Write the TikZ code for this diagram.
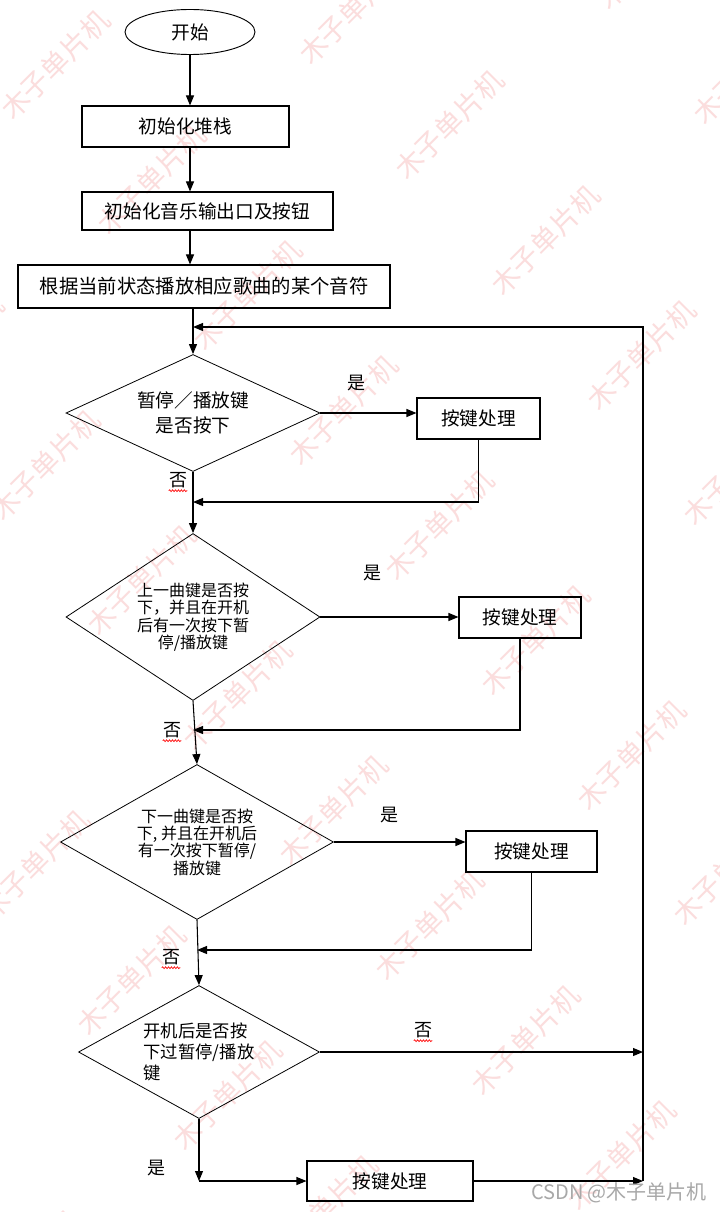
\documentclass[tikz,border=0pt]{standalone}
\usepackage{fontspec}
\setmainfont{Noto Sans CJK SC}
\usetikzlibrary{shapes.geometric, arrows.meta, decorations.pathmorphing}
\definecolor{wmpink}{HTML}{FBDDDD}
\definecolor{csdngray}{HTML}{A8A8A8}
\tikzset{
	startnode/.style={
			ellipse,
			draw=black,
			line width=0.7pt,
			minimum width=97.5pt,
			minimum height=33.75pt,
			inner sep=0pt,
			font=\fontsize{14}{17}\selectfont
		},
	procnode/.style={
			rectangle,
			draw=black,
			line width=0.8pt,
			minimum height=30.75pt,
			inner sep=0pt,
			font=\fontsize{14}{17}\selectfont
		},
	keynode/.style={
			procnode,
			minimum width=92.25pt
		},
	asknode/.style={
			diamond,
			draw=black,
			line width=0.6pt,
			inner sep=0pt,
			align=center,
			font=\fontsize{12}{13}\selectfont
		},
	flow/.style={
			line width=0.8pt,
			-{Triangle[length=7.5pt,width=6pt]}
		},
	yesno/.style={
			inner sep=0pt,
			font=\fontsize{13.5}{16}\selectfont
		},
	spellmark/.style={
			red,
			line width=0.5pt,
			decorate,
			decoration={snake, segment length=2.2pt, amplitude=0.7pt}
		},
	watermark/.style={
			text=wmpink,
			rotate=45,
			font=\fontsize{21}{21}\selectfont
		}
}

\begin{document}
\begin{tikzpicture}[x=0.75pt, y=-0.75pt]

  \fill[white] (0,0) rectangle (720,1212);
  \useasboundingbox (0,0) rectangle (720,1212);

  % watermark
  \begin{scope}
    \clip (0,0) rectangle (720,1212);
    \foreach \i in {-7,...,12} {
      \foreach \k in {-3,...,3} {
        \pgfmathsetmacro\wx{55+96*\i+298*\k}
        \pgfmathsetmacro\wy{65+115*\i-55*\k}
        \pgfmathtruncatemacro\wshow{and(and(\wx>-60,\wx<780),and(\wy>-60,\wy<1270))}
        \ifnum\wshow=1
          \node[watermark] (wm\i\k) at (\wx,\wy) {木子单片机};
        \fi
      }
    }
  \end{scope}

  \node[startnode] (start) at (190,32) {开始};
  \node[procnode, minimum width=155.25pt] (stack) at (185.5,126.5) {初始化堆栈};
  \node[procnode, minimum width=188.25pt, minimum height=28.5pt] (portinit) at (207.5,211) {初始化音乐输出口及按钮};
  \node[procnode, minimum width=279pt, minimum height=32.25pt, font=\fontsize{14.5}{17}\selectfont] (playnote) at (204,286.5) {根据当前状态播放相应歌曲的某个音符};

  \node[asknode, aspect=2.17, minimum width=190.5pt, minimum height=87.75pt, font=\fontsize{14}{19}\selectfont] (askplay) at (193,413) {暂停／播放键\\是否按下};
  \node[keynode] (keyplay) at (478.5,418.5) {按键处理};

  \node[asknode, aspect=1.52, minimum width=190.5pt, minimum height=125.25pt] (askprev) at (193,617) {上一曲键是否按\\下，并且在开机\\后有一次按下暂\\停/播放键};
  \node[keynode, minimum width=91.5pt] (keyprev) at (520,617.5) {按键处理};

  \node[asknode, aspect=1.76, minimum width=204.75pt, minimum height=116.25pt] (asknext) at (197,842) {下一曲键是否按\\下, 并且在开机后\\有一次按下暂停/\\播放键};
  \node[keynode, minimum width=98.25pt] (keynext) at (531.5,851.5) {按键处理};

  \node[asknode, aspect=1.81, minimum width=180.75pt, minimum height=99.75pt, align=left, font=\fontsize{13}{16}\selectfont] (askpaused) at (199,1052) {开机后是否按\\下过暂停/播放\\键};
  \node[keynode, minimum width=124.5pt, minimum height=30pt] (keypaused) at (390,1181) {按键处理};

  \coordinate (loopin) at (193,327);
  \coordinate (loopcorner) at (643,327);
  \coordinate (loopend) at (643,1181);
  \coordinate (mergeplay) at (193,502);
  \coordinate (mergeprev) at (193,730);
  \coordinate (mergenext) at (197,950);
  \coordinate (yesturn) at (199,1181);

  \draw[flow] (start.south) -- (start.south |- stack.north);
  \draw[flow] (stack.south -| start) -- (portinit.north -| start);
  \draw[flow] (portinit.south -| start) -- (playnote.north -| start);
  \draw[flow] (playnote.south -| askplay) -- (askplay.north);
  \draw[flow] (loopend) -- (loopcorner) -- (loopin);

  \draw[flow] (askplay.east) -- (askplay.east -| keyplay.west);
  \draw[flow] (keyplay.south) |- (mergeplay);
  \draw[flow] (askplay.south) -- (askprev.north);

  \draw[flow] (askprev.east) -- (askprev.east -| keyprev.west);
  \draw[flow] (keyprev.south) |- (mergeprev);
  \draw[flow] (askprev.south) -- (asknext.north);

  \draw[flow] (asknext.east) -- (asknext.east -| keynext.west);
  \draw[flow] (keynext.south) |- (mergenext);
  \draw[flow] (asknext.south) -- (askpaused.north);

  \draw[flow] (askpaused.east) -- (askpaused.east -| loopend);
  \draw[flow] (askpaused.south) -- (yesturn);
  \draw[flow] (yesturn) -- (keypaused.west);
  \draw[flow] (keypaused.east) -- (loopend);

  \node[yesno] (yesplay) at (356,383) {是};
  \node[yesno] (noplay) at (178,480) {否};
  \node[yesno] (yesprev) at (372,573) {是};
  \node[yesno] (noprev) at (172,730) {否};
  \node[yesno] (yesnext) at (389,815) {是};
  \node[yesno] (nonext) at (171,957) {否};
  \node[yesno] (nopaused) at (423,1030) {否};
  \node[yesno] (yespaused) at (156,1168) {是};

  \foreach \n in {noplay,noprev,nonext,nopaused}
    \draw[spellmark] ([yshift=-2pt]\n.south west) -- ([yshift=-2pt]\n.south east);

  \node[text=csdngray, font=\fontsize{15}{17}\selectfont] (csdnmark) at (619,1193) {CSDN @木子单片机};

\end{tikzpicture}
\end{document}
